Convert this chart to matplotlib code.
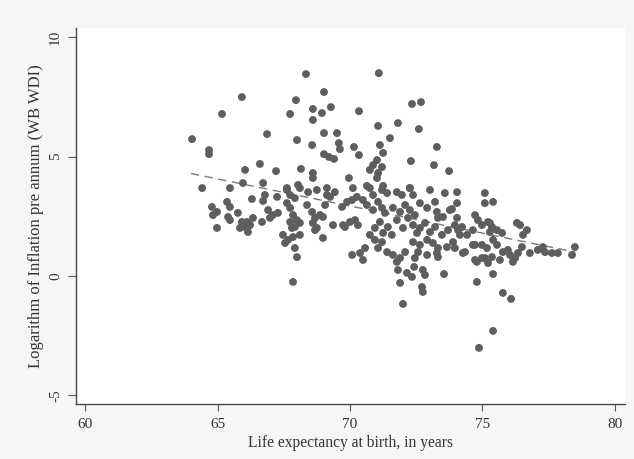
import matplotlib
matplotlib.use('Agg')
import matplotlib.pyplot as plt
import numpy as np

####################################################
# Data
####################################################
life_exp = [
    64.04, 64.68, 64.68, 65.92, 65.17, 68.34, 69.02, 67.96, 67.74, 68.60,
    68.94, 68.60, 66.87, 68.00, 68.57, 69.02, 69.02, 69.21, 69.40, 66.60,
    66.04, 67.21, 68.15, 68.60, 68.60, 64.42, 65.47, 65.96, 66.72, 67.62,
    68.04, 71.09, 69.28, 70.34, 72.34, 72.68, 69.51, 71.06, 71.81, 72.60,
    71.51, 69.58, 69.62, 70.15, 71.13, 71.25, 73.28, 70.34, 72.30, 73.17,
    73.74, 71.02, 70.87, 70.75, 71.21, 71.06, 71.02, 69.96, 70.64, 71.25,
    72.26, 73.58, 75.09, 75.09, 75.40, 74.04, 73.85,
    66.30, 66.79, 66.72, 67.25, 67.62, 67.74, 67.92, 68.11, 68.42, 68.75,
    69.13, 64.79, 64.98, 64.83, 65.36, 65.47, 65.40, 65.47, 65.77, 65.92,
    66.04, 66.15, 65.85, 66.11, 66.23, 64.98, 66.34, 66.68, 66.91, 67.09,
    66.98, 67.28, 67.62, 67.74, 67.85, 68.00, 67.74, 67.92, 68.11, 67.81,
    68.38, 68.57, 68.68, 68.87, 68.60, 68.75, 68.98, 67.47, 67.66, 67.55,
    67.85, 68.11, 67.92, 68.00, 67.85, 68.68,
    69.13, 69.43, 69.25, 70.11, 70.26, 70.08, 70.75, 70.87, 71.21, 71.40,
    71.77, 71.96, 72.26, 72.38, 73.02, 74.04, 69.06, 69.70, 69.89, 70.49,
    70.64, 70.87, 71.06, 71.21, 71.32, 71.62, 71.89, 72.08, 72.26, 72.45,
    72.64, 72.91, 73.21, 73.28, 73.51, 73.77, 74.04, 68.98, 69.36, 69.81,
    70.19, 70.30, 70.75, 70.94, 71.13, 71.25, 71.43, 71.58, 71.77, 72.00,
    72.19, 72.38, 72.53, 72.64, 72.83, 73.02, 73.21, 73.32, 73.47, 73.70,
    73.96, 74.15, 70.94, 71.21, 71.06, 71.40, 70.57, 70.38, 70.08, 70.49,
    71.62, 71.89, 72.08, 72.38, 72.64, 72.57, 72.91, 72.91, 73.13, 73.32,
    73.66, 73.89, 73.32, 71.81, 72.15, 72.34, 71.89, 72.42, 72.75, 72.83,
    72.72, 72.75, 73.55, 72.00,
    74.79, 75.40, 75.77, 76.08, 75.40, 74.87, 71.77, 72.45, 73.28, 74.26,
    74.72, 74.79, 74.98, 75.21, 75.36, 75.66, 75.77, 75.96, 76.15, 76.34,
    76.49, 76.79, 77.09, 77.28, 77.62, 77.85, 78.38, 78.49, 74.64, 74.98,
    75.28, 75.55, 75.74, 76.42, 76.68, 74.72, 74.83, 75.21, 75.36, 75.28,
    74.23, 74.42, 74.08, 76.30, 76.53, 74.64, 74.98, 75.17, 75.40, 75.55,
    73.96, 74.34, 76.04, 77.36, 74.72, 75.09, 76.23, 69.74, 70.00,
]
log_infl = [
    5.73, 5.27, 5.10, 7.49, 6.78, 8.45, 7.70, 7.36, 6.78, 6.99,
    6.82, 6.53, 5.94, 5.69, 5.48, 5.98, 5.10, 4.98, 4.90, 4.69,
    4.44, 4.39, 4.48, 4.31, 4.10, 3.68, 3.68, 3.89, 3.89, 3.68,
    3.81, 8.49, 7.07, 6.90, 7.20, 7.28, 5.98, 6.28, 6.40, 6.15,
    5.77, 5.56, 5.31, 5.40, 5.48, 5.15, 5.40, 5.06, 4.81, 4.64,
    4.39, 4.85, 4.64, 4.44, 4.56, 4.31, 4.10, 4.10, 3.77, 3.77,
    3.68, 3.47, 3.47, 3.05, 3.10, 3.05, 2.80,
    3.22, 3.39, 3.14, 3.31, 3.60, 3.39, 3.26, 3.68, 3.51, 3.60,
    3.39, 2.89, 2.68, 2.55, 3.10, 2.89, 2.47, 2.34, 2.64, 2.26,
    2.05, 1.84, 2.01, 2.26, 2.13, 2.01, 2.43, 2.26, 2.76, 2.55,
    2.43, 2.64, 3.05, 2.85, 2.55, 2.34, 2.26, 2.05, 2.22, 2.01,
    2.97, 2.68, 2.43, 2.55, 2.22, 2.01, 1.59, 1.72, 1.51, 1.38,
    1.63, 1.72, 1.17, 0.79, -0.25, 1.92,
    3.68, 3.51, 3.31, 3.68, 3.31, 3.18, 3.68, 3.39, 3.60, 3.47,
    3.51, 3.39, 3.68, 3.39, 3.60, 3.51, 2.97, 2.89, 3.10, 3.18,
    2.97, 2.76, 3.10, 2.85, 2.64, 2.85, 2.68, 2.97, 2.76, 2.55,
    3.05, 2.85, 3.10, 2.68, 2.47, 2.76, 2.43, 2.47, 2.13, 2.05,
    2.34, 2.13, 1.72, 2.01, 2.26, 1.80, 2.05, 1.72, 2.34, 2.01,
    2.43, 2.13, 1.80, 2.01, 2.22, 1.84, 2.05, 2.43, 1.72, 1.92,
    2.13, 1.72, 1.51, 1.42, 1.17, 1.00, 1.17, 0.96, 0.88, 0.67,
    0.88, 0.75, 1.00, 1.42, 1.30, 1.00, 0.88, 1.51, 1.38, 1.17,
    1.21, 1.42, 0.79, 0.25, 0.13, -0.04, -0.29, 0.38, 0.25, 0.04,
    -0.46, -0.67, 0.08, -1.17,
    -0.25, 0.08, -0.71, -0.96, -2.30, -3.01, 0.59, 0.75, 0.96, 0.96,
    1.30, 0.59, 0.75, 0.54, 0.79, 0.67, 1.00, 1.09, 0.59, 0.96,
    1.21, 0.96, 1.09, 1.21, 0.96, 0.96, 0.88, 1.21, 1.92, 2.13,
    2.22, 1.92, 1.80, 2.13, 1.92, 2.55, 2.34, 2.26, 2.05, 1.84,
    2.05, 1.72, 1.92, 2.22, 1.72, 1.30, 1.30, 1.17, 1.51, 1.30,
    1.17, 1.00, 0.88, 1.00, 0.67, 0.75, 0.75, 2.13, 2.26,
]

# fitted line (lfit) end points
fit_x = [64.0, 78.5]
fit_y = [4.29, 1.00]

x_ticks = [60, 65, 70, 75, 80]
y_ticks = [-5, 0, 5, 10]

####################################################
# Plot
####################################################
plt.rcParams['font.family'] = ['Liberation Serif', 'DejaVu Serif']

fig = plt.figure(figsize=(6.34, 4.59), dpi=100, facecolor='#f6f6f6')
ax = fig.add_axes([0.1199, 0.1198, 0.8659, 0.8192])
ax.set_facecolor('white')

ax.scatter(life_exp, log_infl, s=32, color='#5e5e5e', edgecolors='none', zorder=3)
ax.plot(fit_x, fit_y, linestyle=(0, (6, 4)), color='#7a7a7a', linewidth=1.0, zorder=2)

ax.set_xlim(59.66, 80.38)
ax.set_ylim(-5.36, 10.38)
ax.set_xticks(x_ticks)
ax.set_yticks(y_ticks)
ax.set_xticklabels([str(v) for v in x_ticks], fontsize=11, color='#333333')
ax.set_yticklabels([str(v) for v in y_ticks], fontsize=11, color='#333333',
                   rotation=90, va='center')

ax.tick_params(axis='x', direction='out', length=5, width=0.8, color='#555555', pad=5)
ax.tick_params(axis='y', direction='out', length=6, width=0.8, color='#555555', pad=4)

for side in ['top', 'right']:
    ax.spines[side].set_visible(False)
for side in ['left', 'bottom']:
    ax.spines[side].set_color('#444444')
    ax.spines[side].set_linewidth(1.0)

ax.set_xlabel('Life expectancy at birth, in years', fontsize=11.2, color='#333333', labelpad=3)
ax.set_ylabel('Logarithm of Inflation pre annum (WB WDI)', fontsize=12, color='#333333', labelpad=4)

fig.savefig('out.png', dpi=100, facecolor=fig.get_facecolor())
